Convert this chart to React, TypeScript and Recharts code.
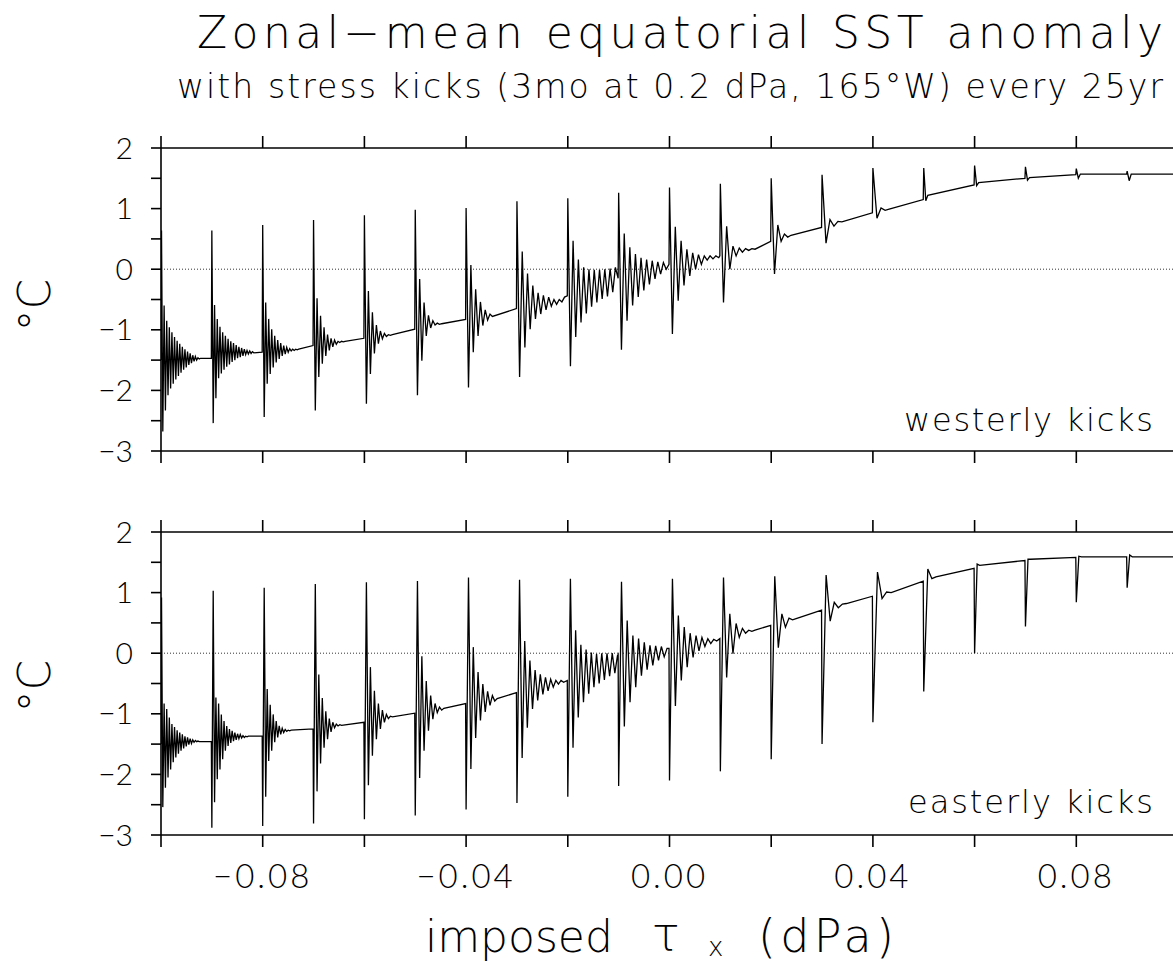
import React from 'react';
import { LineChart, Line, XAxis, YAxis, ReferenceLine } from 'recharts';

// one stress kick: baseline just before it, then extrema,
// spaced by the oscillation half-period (dPa)
interface Kick {
  at: number;
  pre: number;
  step: number;
  vals: number[];
}

const tauTicks = [-0.1, -0.08, -0.06, -0.04, -0.02, 0, 0.02, 0.04, 0.06, 0.08, 0.1];
const tauLabelled = [-0.08, -0.04, 0, 0.04, 0.08];
const sstTicks = [-3, -2.5, -2, -1.5, -1, -0.5, 0, 0.5, 1, 1.5, 2];

const westerlyKicks: Kick[] = [
  { at: -0.0999, pre: -1.5, step: 0.000256, vals: [0.64, -2.68, -0.6, -2.33, -0.85, -2.08, -0.96, -1.97, -1.04, -1.89, -1.12, -1.82, -1.18, -1.76, -1.23, -1.71, -1.28, -1.66, -1.32, -1.62, -1.36, -1.58, -1.39, -1.55, -1.42, -1.52, -1.44, -1.5, -1.46, -1.48, -1.47] },
  { at: -0.09, pre: -1.47, step: 0.000266, vals: [0.64, -2.54, -0.59, -2.13, -0.82, -1.8, -0.95, -1.72, -1.04, -1.66, -1.1, -1.61, -1.15, -1.57, -1.19, -1.53, -1.22, -1.5, -1.25, -1.47, -1.28, -1.45, -1.3, -1.43, -1.32, -1.41, -1.34, -1.4, -1.35, -1.39, -1.36, -1.38] },
  { at: -0.08, pre: -1.37, step: 0.000295, vals: [0.73, -2.44, -0.55, -1.89, -0.82, -1.73, -0.99, -1.62, -1.1, -1.54, -1.17, -1.48, -1.22, -1.43, -1.26, -1.4, -1.29, -1.37, -1.31, -1.35, -1.32, -1.34, -1.32, -1.33, -1.32] },
  { at: -0.07, pre: -1.26, step: 0.000344, vals: [0.81, -2.33, -0.48, -1.78, -0.77, -1.56, -0.96, -1.43, -1.08, -1.34, -1.14, -1.28, -1.17, -1.24, -1.19, -1.21, -1.19, -1.2, -1.19] },
  { at: -0.06, pre: -1.14, step: 0.000393, vals: [0.89, -2.22, -0.36, -1.73, -0.71, -1.39, -0.92, -1.23, -1.02, -1.15, -1.06, -1.11, -1.08, -1.09, -1.08] },
  { at: -0.05, pre: -0.99, step: 0.000433, vals: [0.98, -2.08, -0.16, -1.51, -0.55, -1.1, -0.76, -0.97, -0.85, -0.92, -0.89, -0.91, -0.9] },
  { at: -0.04, pre: -0.83, step: 0.00047, vals: [1.01, -1.95, 0.07, -1.37, -0.33, -1.1, -0.54, -0.93, -0.67, -0.84, -0.74, -0.78] },
  { at: -0.03, pre: -0.65, step: 0.00052, vals: [1.12, -1.78, 0.29, -1.29, -0.07, -0.99, -0.27, -0.82, -0.39, -0.74, -0.43, -0.67, -0.46, -0.61, -0.5, -0.58, -0.5, -0.54, -0.46] },
  { at: -0.02, pre: -0.44, step: 0.00052, vals: [1.17, -1.6, 0.47, -1.12, 0.16, -0.88, 0.03, -0.73, 0.0, -0.62, -0.01, -0.55, -0.01, -0.49, 0.0, -0.45, 0.01, -0.38, 0.03] },
  { at: -0.01, pre: -0.15, step: 0.00055, vals: [1.26, -1.33, 0.59, -0.85, 0.36, -0.6, 0.25, -0.46, 0.19, -0.35, 0.16, -0.25, 0.14, -0.16, 0.12, -0.08, 0.11, 0.0] },
  { at: 0.0, pre: 0.08, step: 0.00057, vals: [1.35, -1.07, 0.7, -0.52, 0.47, -0.27, 0.33, -0.11, 0.27, 0.0, 0.24, 0.08, 0.22, 0.15, 0.22, 0.17, 0.22, 0.19] },
  { at: 0.01, pre: 0.22, step: 0.00062, vals: [1.41, -0.55, 0.71, 0.0, 0.38, 0.22, 0.35, 0.28, 0.34, 0.31, 0.34, 0.33] },
  { at: 0.02, pre: 0.46, step: 0.00065, vals: [1.5, -0.08, 0.73, 0.46, 0.58, 0.53, 0.56] },
  { at: 0.03, pre: 0.69, step: 0.00078, vals: [1.56, 0.43, 0.82, 0.71, 0.79, 0.78] },
  { at: 0.04, pre: 0.93, step: 0.0008, vals: [1.67, 0.84, 1.01, 0.97, 0.99] },
  { at: 0.05, pre: 1.15, step: 0.0004, vals: [1.67, 1.13, 1.22] },
  { at: 0.06, pre: 1.39, step: 0.0004, vals: [1.71, 1.38, 1.43] },
  { at: 0.07, pre: 1.5, step: 0.0004, vals: [1.69, 1.47, 1.51] },
  { at: 0.08, pre: 1.56, step: 0.0004, vals: [1.66, 1.5, 1.57] },
  { at: 0.09, pre: 1.57, step: 0.0004, vals: [1.62, 1.46, 1.57] },
];
const westerlyEnd = 1.57;

const easterlyKicks: Kick[] = [
  { at: -0.0999, pre: -1.5, step: 0.000256, vals: [0.92, -2.54, -0.83, -2.22, -0.92, -2.05, -1.06, -1.92, -1.17, -1.8, -1.22, -1.72, -1.27, -1.66, -1.31, -1.61, -1.34, -1.57, -1.37, -1.54, -1.39, -1.51, -1.41, -1.49, -1.43, -1.47, -1.44, -1.46, -1.45, -1.46] },
  { at: -0.09, pre: -1.46, step: 0.000266, vals: [-2.88, 1.03, -2.46, -0.73, -2.08, -0.83, -1.92, -1.01, -1.75, -1.12, -1.61, -1.2, -1.53, -1.25, -1.48, -1.28, -1.45, -1.31, -1.43, -1.33, -1.41, -1.34, -1.4, -1.36, -1.39, -1.37, -1.38, -1.37] },
  { at: -0.08, pre: -1.37, step: 0.000295, vals: [-2.85, 1.08, -2.37, -0.59, -1.78, -0.85, -1.61, -1.01, -1.47, -1.12, -1.39, -1.2, -1.34, -1.24, -1.31, -1.26, -1.29, -1.27, -1.28, -1.27] },
  { at: -0.07, pre: -1.25, step: 0.000344, vals: [-2.81, 1.14, -2.28, -0.35, -1.82, -0.74, -1.56, -0.96, -1.42, -1.08, -1.3, -1.14, -1.23, -1.17, -1.2, -1.18, -1.19] },
  { at: -0.06, pre: -1.14, step: 0.000393, vals: [-2.74, 1.17, -2.18, -0.23, -1.69, -0.62, -1.42, -0.83, -1.25, -0.94, -1.14, -1.01, -1.08, -1.04, -1.05] },
  { at: -0.05, pre: -0.99, step: 0.000433, vals: [-2.68, 1.19, -2.06, -0.05, -1.61, -0.46, -1.28, -0.7, -1.09, -0.83, -0.98, -0.89, -0.94, -0.91] },
  { at: -0.04, pre: -0.83, step: 0.00047, vals: [-2.58, 1.25, -1.91, 0.1, -1.4, -0.31, -1.11, -0.51, -0.97, -0.63, -0.86, -0.7, -0.79, -0.75] },
  { at: -0.03, pre: -0.65, step: 0.00051, vals: [-2.47, 1.21, -1.73, 0.2, -1.23, -0.12, -0.92, -0.28, -0.78, -0.35, -0.68, -0.4, -0.62, -0.43, -0.56, -0.45, -0.51, -0.45, -0.48] },
  { at: -0.02, pre: -0.45, step: 0.000514, vals: [-2.37, 1.23, -1.56, 0.38, -1.06, 0.14, -0.81, 0.06, -0.67, 0.01, -0.56, -0.01, -0.5, 0.0, -0.44, 0.0, -0.38, 0.0, -0.33, -0.04] },
  { at: -0.01, pre: -0.02, step: 0.00056, vals: [-2.19, 1.18, -1.21, 0.54, -0.81, 0.29, -0.56, 0.24, -0.37, 0.18, -0.27, 0.13, -0.2, 0.12, -0.12, 0.11, -0.06, 0.08] },
  { at: 0.0, pre: 0.08, step: 0.00058, vals: [-2.1, 1.23, -0.87, 0.62, -0.45, 0.43, -0.23, 0.33, -0.07, 0.29, 0.04, 0.26, 0.11, 0.24, 0.16, 0.23, 0.2] },
  { at: 0.01, pre: 0.24, step: 0.00062, vals: [-1.95, 1.25, -0.4, 0.65, -0.01, 0.49, 0.26, 0.41, 0.33, 0.38, 0.36, 0.38] },
  { at: 0.02, pre: 0.46, step: 0.0007, vals: [-1.75, 1.27, 0.09, 0.65, 0.43, 0.58, 0.55, 0.57] },
  { at: 0.03, pre: 0.71, step: 0.0008, vals: [-1.5, 1.29, 0.53, 0.84, 0.75, 0.81, 0.82] },
  { at: 0.04, pre: 0.94, step: 0.0009, vals: [-1.14, 1.34, 0.9, 1.01, 1.0] },
  { at: 0.05, pre: 1.19, step: 0.0008, vals: [-0.63, 1.39, 1.23, 1.26] },
  { at: 0.06, pre: 1.4, step: 0.0005, vals: [0.0, 1.47, 1.45] },
  { at: 0.07, pre: 1.53, step: 0.0005, vals: [0.44, 1.55, 1.55] },
  { at: 0.08, pre: 1.58, step: 0.0005, vals: [0.84, 1.6, 1.59] },
  { at: 0.09, pre: 1.59, step: 0.0005, vals: [1.08, 1.62, 1.59] },
];
const easterlyEnd = 1.59;

const FONT = "Lato, 'Open Sans', 'DejaVu Sans', sans-serif";
const WIDE_FONT = "'DejaVu Sans', Lato, sans-serif";

const toSeries = (kicks: Kick[], end: number) => {
  const pts: { tau: number; sst: number }[] = [];
  kicks.forEach((k) => {
    pts.push({ tau: k.at - 0.0001, sst: k.pre });
    k.vals.forEach((v, i) => pts.push({ tau: k.at + i * k.step, sst: v }));
  });
  pts.push({ tau: 0.1, sst: end });
  return pts;
};

const fmtTau = (v: number) =>
  tauLabelled.some((l) => Math.abs(l - v) < 1e-6) ? (v < -1e-9 ? '\u2212' : '') + Math.abs(v).toFixed(2) : '';
const fmtSst = (v: number) => (Number.isInteger(v) ? (v < 0 ? '\u2212' : '') + Math.abs(v) : '');

const axisStroke = { stroke: '#000', strokeWidth: 1.6 };

interface PanelProps {
  data: { tau: number; sst: number }[];
  top: number;
  marginTop: number;
  bottomHeight: number;
  labels: boolean;
}

const Panel: React.FC<PanelProps> = ({ data, top, marginTop, bottomHeight, labels }) => (
  <div style={{ position: 'absolute', left: 0, top }}>
    <LineChart
      width={1198}
      height={marginTop + 20 + 303 + bottomHeight}
      data={data}
      margin={{ top: marginTop, right: 20, bottom: 0, left: 101 }}
    >
      <XAxis
        xAxisId="top"
        orientation="top"
        dataKey="tau"
        type="number"
        domain={[-0.1, 0.1]}
        ticks={tauTicks}
        interval={0}
        tickFormatter={() => ''}
        tickSize={12}
        height={20}
        axisLine={axisStroke}
        tickLine={axisStroke}
        allowDataOverflow
      />
      <XAxis
        xAxisId="bottom"
        orientation="bottom"
        dataKey="tau"
        type="number"
        domain={[-0.1, 0.1]}
        ticks={tauTicks}
        interval={0}
        tickFormatter={labels ? fmtTau : () => ''}
        tickSize={12}
        tickMargin={18}
        height={bottomHeight}
        axisLine={axisStroke}
        tickLine={axisStroke}
        tick={{ fontSize: 33, fill: '#000', fontFamily: FONT, fontWeight: 300, letterSpacing: 3 }}
        allowDataOverflow
      />
      <YAxis
        type="number"
        domain={[-3, 2]}
        ticks={sstTicks}
        interval={0}
        tickFormatter={fmtSst}
        width={60}
        tickSize={10}
        tickMargin={18}
        axisLine={axisStroke}
        tickLine={axisStroke}
        tick={{ fontSize: 30, fill: '#000', fontFamily: FONT, fontWeight: 300 }}
        allowDataOverflow
      />
      <ReferenceLine xAxisId="bottom" y={0} stroke="#333" strokeWidth={1} strokeDasharray="1 2" />
      <Line
        xAxisId="bottom"
        type="linear"
        dataKey="sst"
        stroke="#000"
        strokeWidth={1.3}
        dot={false}
        isAnimationActive={false}
      />
      <Line xAxisId="top" type="linear" dataKey="sst" stroke="none" dot={false} isAnimationActive={false} />
    </LineChart>
  </div>
);

const wideStyle = { fontFamily: WIDE_FONT, fontWeight: 200, fill: '#000' };

const App: React.FC = () => {
  const westerly = React.useMemo(() => toSeries(westerlyKicks, westerlyEnd), []);
  const easterly = React.useMemo(() => toSeries(easterlyKicks, easterlyEnd), []);

  return (
    <div style={{ position: 'fixed', left: 0, top: 0, width: 1173, height: 965, overflow: 'hidden', background: '#fff' }}>
      <Panel data={westerly} top={0} marginTop={128} bottomHeight={20} labels={false} />
      <Panel data={easterly} top={468} marginTop={44} bottomHeight={70} labels />
      <svg width={1173} height={965} style={{ position: 'absolute', left: 0, top: 0, pointerEvents: 'none' }}>
        <text x={197} y={48} fontSize={44} textLength={966} lengthAdjust="spacing" style={wideStyle}>
          Zonal{'\u2212'}mean equatorial SST anomaly
        </text>
        <text x={177} y={98} fontSize={33} textLength={986} lengthAdjust="spacing" style={wideStyle}>
          with stress kicks (3mo at 0.2 dPa, 165°W) every 25yr
        </text>
        <text x={50} y={305} fontSize={44} textAnchor="middle" transform="rotate(-90 50 305)" style={wideStyle}>
          °C
        </text>
        <text x={50} y={686} fontSize={44} textAnchor="middle" transform="rotate(-90 50 686)" style={wideStyle}>
          °C
        </text>
        <text x={904} y={431} fontSize={32} textLength={249} lengthAdjust="spacing" style={wideStyle}>
          westerly kicks
        </text>
        <text x={908} y={813} fontSize={32} textLength={245} lengthAdjust="spacing" style={wideStyle}>
          easterly kicks
        </text>
        <text x={425} y={952} fontSize={44} style={wideStyle}>
          imposed
        </text>
        <text x={652} y={950} fontSize={46} style={wideStyle}>
          τ
        </text>
        <text x={708} y={956} fontSize={26} style={wideStyle}>
          x
        </text>
        <text x={758} y={952} fontSize={46} textLength={136} lengthAdjust="spacing" style={wideStyle}>
          (dPa)
        </text>
      </svg>
    </div>
  );
};

export default App;
